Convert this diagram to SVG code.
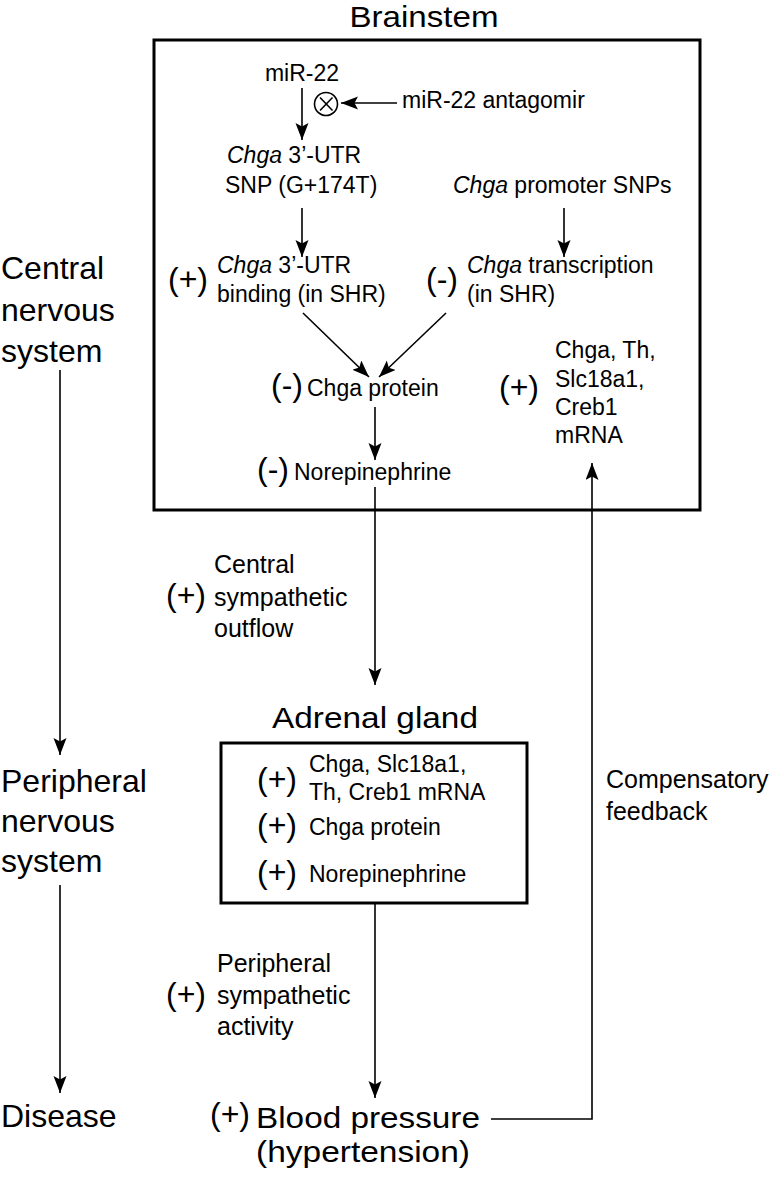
<svg xmlns="http://www.w3.org/2000/svg" width="780" height="1177" viewBox="0 0 780 1177">
<defs>
<style>
text{font-family:"Liberation Sans",Arial,Helvetica,sans-serif;fill:#000}
.t{font-size:23px}
.e{font-size:25px}
.big{font-size:30px}
.left{font-size:32px}
.s{font-size:32px}
.it{font-style:italic}
.box{fill:none;stroke:#000;stroke-width:3}
.c{fill:none;stroke:#000;stroke-width:1.6}
</style>
<marker id="ah" markerUnits="userSpaceOnUse" markerWidth="18" markerHeight="14" refX="17" refY="6.5" orient="auto">
<path d="M0,0 L17,6.5 L0,13 L3.5,6.5 Z" fill="#000"/>
</marker>
</defs>
<rect width="780" height="1177" fill="#fff"/>

<g id="left-column">
<text class="left" x="1" y="279">Central</text>
<text class="left" x="1" y="321">nervous</text>
<text class="left" x="1" y="362">system</text>
<text class="left" x="1" y="792">Peripheral</text>
<text class="left" x="1" y="832">nervous</text>
<text class="left" x="1" y="872">system</text>
<text class="left" x="1" y="1127">Disease</text>
</g>

<g id="brainstem">
<text class="big" x="424" y="27" text-anchor="middle" textLength="149" lengthAdjust="spacingAndGlyphs">Brainstem</text>
<rect class="box" x="154" y="40" width="546" height="470"/>
</g>

<g id="mir22">
<text class="t" x="302" y="81" text-anchor="middle">miR-22</text>
</g>
<g id="antagomir">
<text class="t" x="402" y="108">miR-22 antagomir</text>
</g>
<g id="block-symbol">
<circle class="c" cx="326" cy="104" r="11.5"/>
<line class="c" x1="320" y1="97.5" x2="332.5" y2="110.5"/>
<line class="c" x1="332.5" y1="97.5" x2="320" y2="110.5"/>
</g>
<g id="utr-snp">
<text class="t" x="227" y="163"><tspan class="it">Chga</tspan> 3’-UTR</text>
<text class="t" x="225" y="193">SNP (G+174T)</text>
</g>
<g id="promoter-snps">
<text class="t" x="453" y="193"><tspan class="it">Chga</tspan> promoter SNPs</text>
</g>
<g id="utr-binding">
<text class="s" x="168" y="290">(+)</text>
<text class="t" x="217" y="273"><tspan class="it">Chga</tspan> 3’-UTR</text>
<text class="t" x="217" y="302">binding (in SHR)</text>
</g>
<g id="transcription">
<text class="s" x="426" y="290">(-)</text>
<text class="t" x="467" y="273"><tspan class="it">Chga</tspan> transcription</text>
<text class="t" x="467" y="302">(in SHR)</text>
</g>
<g id="chga-protein-bs">
<text class="s" x="271" y="396">(-)</text>
<text class="t" x="307" y="396">Chga protein</text>
</g>
<g id="ne-bs">
<text class="s" x="257" y="480">(-)</text>
<text class="t" x="294" y="480">Norepinephrine</text>
</g>
<g id="mrna-bs">
<text class="s" x="499" y="398">(+)</text>
<text class="t" x="555" y="358">Chga, Th,</text>
<text class="t" x="555" y="387">Slc18a1,</text>
<text class="t" x="555" y="415">Creb1</text>
<text class="t" x="555" y="443">mRNA</text>
</g>

<g id="central-outflow">
<text class="s" x="166" y="606">(+)</text>
<text class="e" x="214" y="573">Central</text>
<text class="e" x="214" y="606">sympathetic</text>
<text class="e" x="214" y="637">outflow</text>
</g>

<g id="adrenal">
<text class="big" x="375" y="728" text-anchor="middle" textLength="206" lengthAdjust="spacingAndGlyphs">Adrenal gland</text>
<rect class="box" x="221" y="743" width="306" height="160"/>
<text class="s" x="257" y="790">(+)</text>
<text class="t" x="309" y="772">Chga, Slc18a1,</text>
<text class="t" x="309" y="800">Th, Creb1 mRNA</text>
<text class="s" x="257" y="836">(+)</text>
<text class="t" x="309" y="835">Chga protein</text>
<text class="s" x="257" y="883">(+)</text>
<text class="t" x="309" y="882">Norepinephrine</text>
</g>

<g id="compensatory">
<text class="e" x="606" y="788">Compensatory</text>
<text class="e" x="606" y="820">feedback</text>
</g>

<g id="peripheral-activity">
<text class="s" x="166" y="1005">(+)</text>
<text class="e" x="217" y="972">Peripheral</text>
<text class="e" x="217" y="1004">sympathetic</text>
<text class="e" x="217" y="1035">activity</text>
</g>

<g id="blood-pressure">
<text class="s" x="210" y="1125">(+)</text>
<text class="big" x="256" y="1128" font-size="31" textLength="224" lengthAdjust="spacingAndGlyphs">Blood pressure</text>
<text class="big" x="256" y="1162" font-size="31" textLength="214" lengthAdjust="spacingAndGlyphs">(hypertension)</text>
</g>

<g id="connectors">
<line class="c" x1="60" y1="370" x2="60" y2="755" marker-end="url(#ah)"/>
<line class="c" x1="60" y1="885" x2="60" y2="1093" marker-end="url(#ah)"/>
<line class="c" x1="302" y1="88" x2="302" y2="140" marker-end="url(#ah)"/>
<line class="c" x1="397" y1="103" x2="341" y2="103" marker-end="url(#ah)"/>
<line class="c" x1="302" y1="208" x2="302" y2="257" marker-end="url(#ah)"/>
<line class="c" x1="564" y1="208" x2="564" y2="257" marker-end="url(#ah)"/>
<line class="c" x1="303" y1="313" x2="369" y2="377" marker-end="url(#ah)"/>
<line class="c" x1="446" y1="313" x2="379" y2="377" marker-end="url(#ah)"/>
<line class="c" x1="375" y1="407" x2="375" y2="460" marker-end="url(#ah)"/>
<line class="c" x1="375" y1="487" x2="375" y2="685" marker-end="url(#ah)"/>
<line class="c" x1="375" y1="903" x2="375" y2="1098" marker-end="url(#ah)"/>
<polyline class="c" points="491,1119 592,1119 592,463" marker-end="url(#ah)"/>
</g>
</svg>
